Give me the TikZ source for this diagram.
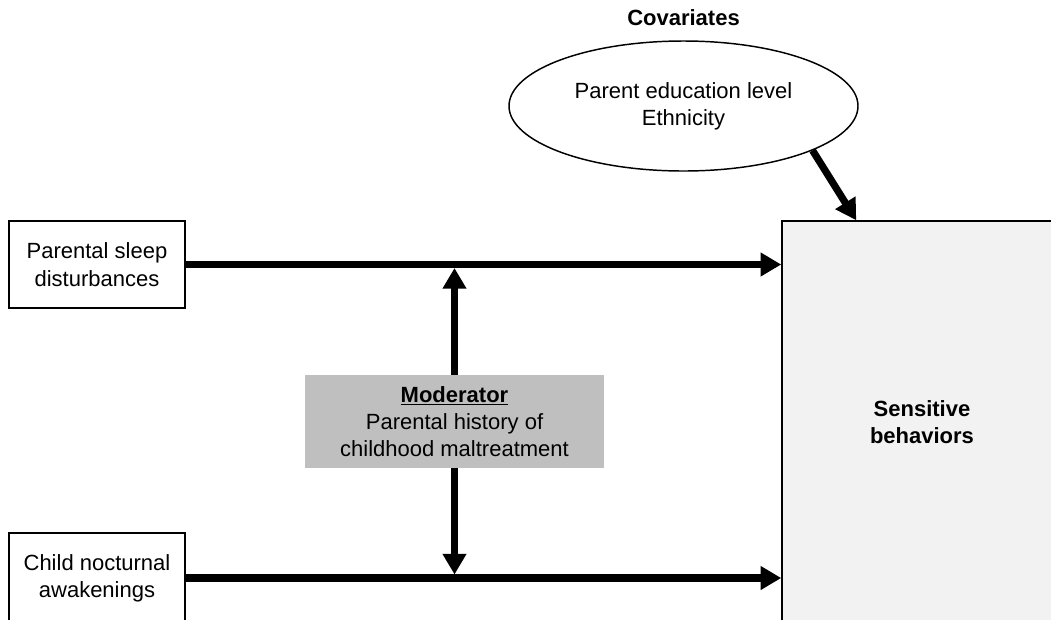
\documentclass[tikz,border=0pt]{standalone}
\usepackage{fontspec}
\setmainfont{Liberation Sans}
\usetikzlibrary{arrows.meta,shapes.geometric,calc}
\definecolor{modgray}{HTML}{BFBFBF}
\definecolor{outgray}{HTML}{F2F2F2}
\tikzset{
  txt/.style={font=\fontsize{16.5pt}{20.5pt}\selectfont, align=center, text=black},
  inbox/.style={txt, draw=black, line width=1.1pt, fill=white, inner sep=0pt},
  arr/.style={line width=5.4pt, -{Triangle[length=15.5pt,width=17pt]}},
}
\begin{document}
\begin{tikzpicture}[x=0.75pt,y=-0.75pt]
\useasboundingbox (0,0) rectangle (1051,619);
\clip (0,0) rectangle (1051,619);
\fill[white] (0,0) rectangle (1051,619);
% outcome box (extends past the edge)
\node[txt, draw=black, line width=1.1pt, fill=outgray, minimum width=210pt, minimum height=301.5pt, inner sep=0pt, font=\fontsize{16.5pt}{20.5pt}\selectfont\bfseries] (sb) at (922,422) {Sensitive\\behaviors};
% predictors
\node[inbox, minimum width=132pt, minimum height=65.25pt] (psd) at (97,264.5) {Parental sleep\\disturbances};
\node[inbox, minimum width=132pt, minimum height=67.5pt] (cna) at (97,578) {Child nocturnal\\awakenings};
% moderator
\node[txt, fill=modgray, minimum width=224.25pt, minimum height=69.75pt, inner sep=0pt] (mod) at (454.5,421.5) {\textbf{\underline{Moderator}}\\Parental history of\\childhood maltreatment};
% covariates
\node[txt, ellipse, draw=black, line width=1.1pt, fill=white, minimum width=261.75pt, minimum height=97.5pt, inner sep=0pt] (cov) at (683.5,106) {Parent education level\\Ethnicity};
\node[txt, font=\fontsize{16.5pt}{20.5pt}\selectfont\bfseries] (covl) at (683.5,18) {Covariates};
% connectors
\coordinate (sbtop) at ($(sb.north west)+(75,0)$);
\draw[arr] (psd.east) -- (psd.east -| sb.west);
\draw[arr] (cna.east) -- (cna.east -| sb.west);
\coordinate (mtop) at ($(mod.north |- psd.east)+(0,3.5)$);
\coordinate (mbot) at ($(mod.south |- cna.east)+(0,-3.5)$);
\draw[arr] (mod.north) -- (mtop);
\draw[arr] (mod.south) -- (mbot);
\draw[arr] (cov.-19) -- (sbtop);
\end{tikzpicture}
\end{document}
